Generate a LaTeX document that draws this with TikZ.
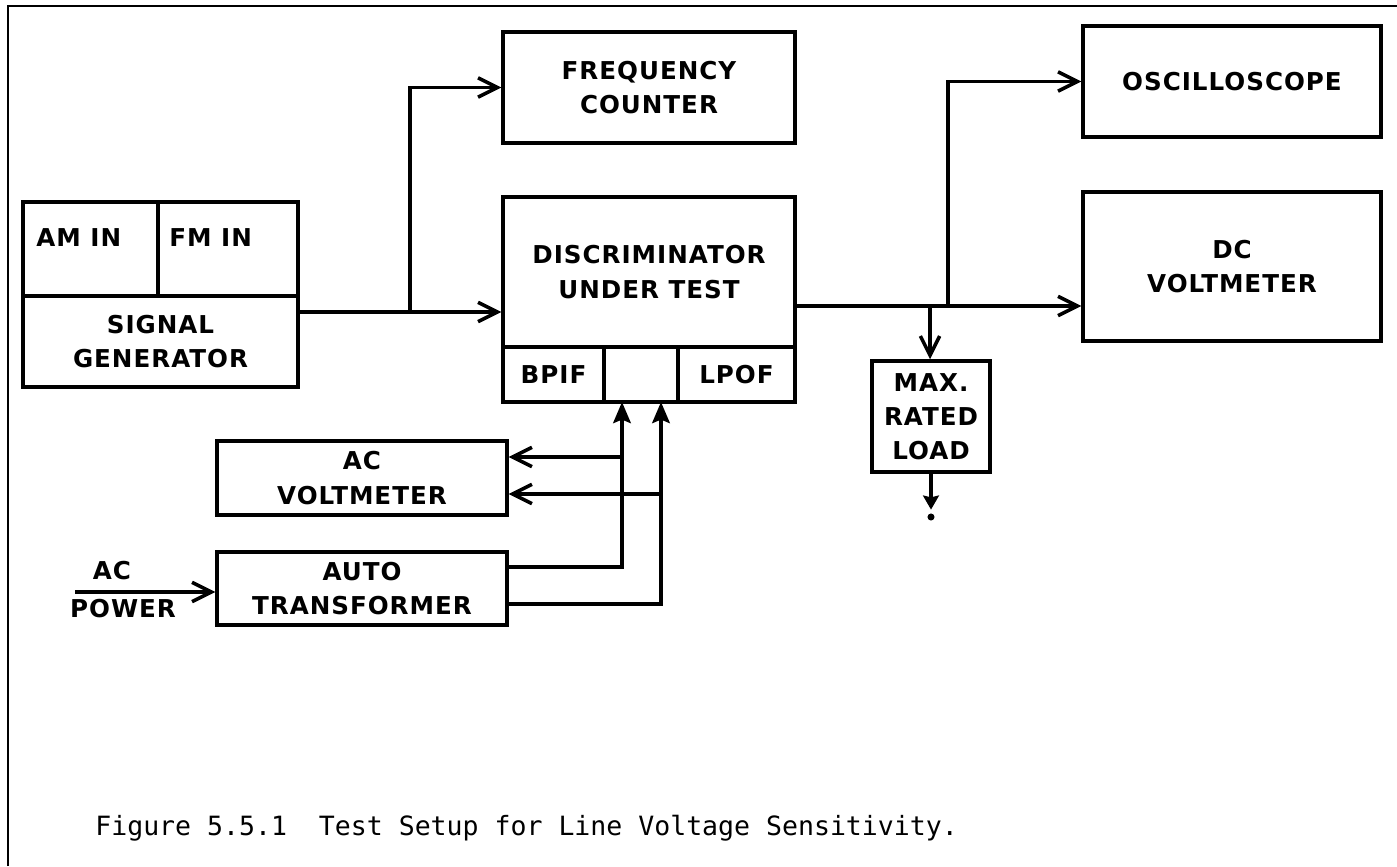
\documentclass[tikz,border=0pt]{standalone}
\usepackage{fontspec}
\usetikzlibrary{arrows.meta}
\newfontfamily\plotfont[LetterSpace=4.0]{DejaVu Sans}
\newfontfamily\capfont{DejaVu Sans Mono}

\begin{document}
\begin{tikzpicture}[
    x=0.02cm, y=-0.02cm,
    blk/.style={draw, line width=2pt, inner sep=0pt, align=center, font=\plotfont\bfseries\fontsize{14}{19.5}\selectfont},
    lbl/.style={inner sep=0pt, align=center, font=\plotfont\bfseries\fontsize{14}{19.5}\selectfont},
    wire/.style={line width=2pt},
    arrow/.style={wire, -{Straight Barb[length=11pt, width=11pt]}},
    farrow/.style={wire, -{Stealth[length=12pt, width=10pt, inset=2pt]}},
    garrow/.style={wire, -{Stealth[length=8pt, width=9pt, inset=1pt]}},
    dot/.style={circle, fill, inner sep=0pt, minimum size=4pt},
]
\useasboundingbox (0,0) rectangle (1397,866);

% Frame
\draw[line width=1.6pt] (8,866) -- (8,6) -- (1397,6);

% Signal generator
\node[blk, minimum width=2.7cm, minimum height=1.88cm] (amin) at (90.5,249) {};
\node[blk, minimum width=2.8cm, minimum height=1.88cm] (fmin) at (228,249) {};
\node[blk, minimum width=5.5cm, minimum height=1.82cm] (sgen) at (160.5,341.5) {SIGNAL\\GENERATOR};
\node[lbl, anchor=west] (amtxt) at (36,238) {AM IN};
\node[lbl, anchor=west] (fmtxt) at (169,238) {FM IN};

% Frequency counter
\node[blk, minimum width=5.84cm, minimum height=2.22cm] (fc) at (649,87.5) {FREQUENCY\\COUNTER};

% Discriminator under test
\node[blk, minimum width=5.84cm, minimum height=3.0cm] (dut) at (649,272) {DISCRIMINATOR\\UNDER TEST};
\node[blk, minimum width=2.02cm, minimum height=1.1cm] (bpif) at (553.5,374.5) {BPIF};
\node[blk, minimum width=1.48cm, minimum height=1.1cm] (mid) at (641,374.5) {};
\node[blk, minimum width=2.34cm, minimum height=1.1cm] (lpof) at (736.5,374.5) {LPOF};

% Outputs
\node[blk, minimum width=5.96cm, minimum height=2.22cm] (osc) at (1232,81.5) {OSCILLOSCOPE};
\node[blk, minimum width=5.96cm, minimum height=2.98cm] (dcv) at (1232,266.5) {DC\\VOLTMETER};
\node[blk, minimum width=2.36cm, minimum height=2.22cm] (mrl) at (931,416.5) {MAX.\\RATED\\LOAD};
\node[dot] (gnd) at (931,517) {};

% Power side
\node[blk, minimum width=5.8cm, minimum height=1.48cm] (acv) at (362,478) {AC\\VOLTMETER};
\node[blk, minimum width=5.8cm, minimum height=1.46cm] (auto) at (362,588.5) {AUTO\\TRANSFORMER};
\node[lbl] (actxt) at (112,571) {AC};
\node[lbl] (pwrtxt) at (123,609) {POWER};

% Signal path
\coordinate (sp1) at (410,312);
\draw[wire] (sgen.north east |- sp1) -- (sp1);
\draw[arrow] (sp1) -- (sp1 -| dut.west);
\draw[arrow] (sp1) |- (fc.west);

\coordinate (sp3) at (930,306);
\coordinate (sp2) at (948,306);
\draw[wire] (dut.east |- sp3) -- (sp2);
\draw[arrow] (sp2) -- (sp2 -| dcv.west);
\draw[arrow] (sp2) |- (osc.west);
\draw[arrow] (sp3) -- (sp3 |- mrl.north);
\draw[garrow, shorten >=2pt] (mrl.south) -- (gnd);

% Line voltage
\coordinate (in1) at (622,402);
\coordinate (in2) at (661,402);
\coordinate (t1) at (622,567);
\coordinate (t2) at (661,604);
\coordinate (b1) at (622,457);
\coordinate (b2) at (661,494);
\draw[farrow] (auto.east |- t1) -- (t1) -- (in1);
\draw[farrow] (auto.east |- t2) -- (t2) -- (in2);
\draw[arrow] (b1) -- (b1 -| acv.east);
\draw[arrow] (b2) -- (b2 -| acv.east);

\coordinate (pwr) at (75,592);
\draw[arrow] (pwr) -- (pwr -| auto.west);

% Caption
\node[inner sep=0pt, anchor=base west, font=\capfont\fontsize{15.1}{18}\selectfont] (cap) at (95,835) {Figure 5.5.1\ \ Test Setup for Line Voltage Sensitivity.};

\end{tikzpicture}
\end{document}
